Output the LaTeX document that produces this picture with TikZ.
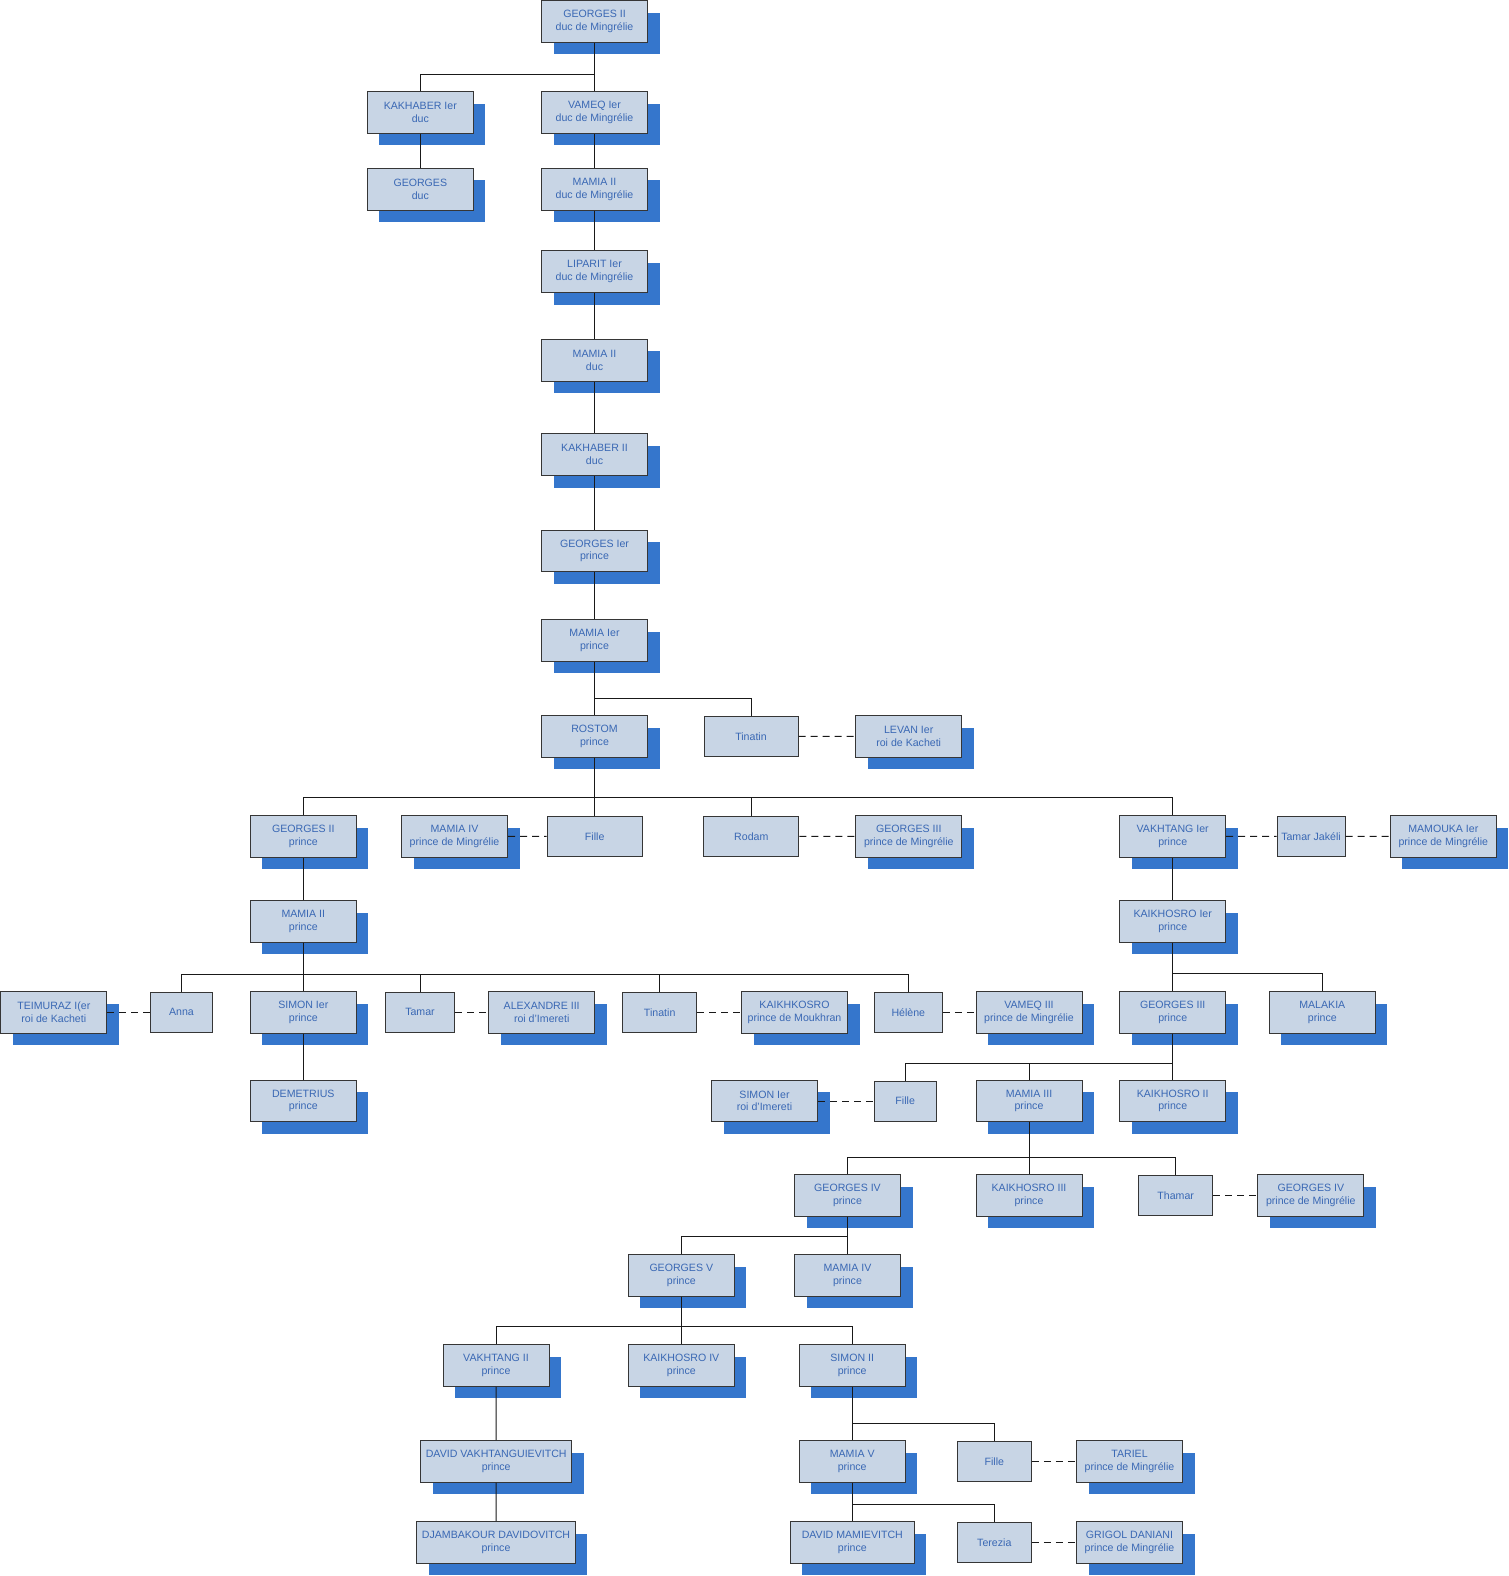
\documentclass[tikz,border=0pt]{standalone}
\usepackage{fontspec}
\setmainfont{Liberation Sans}
\usetikzlibrary{shadows}
\definecolor{famfill}{HTML}{C8D5E5}
\definecolor{famshadow}{HTML}{3576CC}
\definecolor{famtext}{HTML}{3A68B4}
\definecolor{famline}{HTML}{363636}

\tikzset{
  person/.style={draw=famline, line width=1pt, fill=famfill, text=famtext,
    font=\fontsize{10.6}{12.6}\selectfont, align=center, inner sep=0pt,
    minimum width=106pt, minimum height=41.6pt,
    drop shadow={shadow xshift=12pt, shadow yshift=-12pt, fill=famshadow, opacity=1, draw=none}},
  spouse/.style={draw=famline, line width=1pt, fill=famfill, text=famtext,
    font=\fontsize{10.6}{12.6}\selectfont, inner sep=0pt, minimum height=40pt},
  kin/.style={draw=black!90, line width=0.9pt},
  wed/.style={draw=black!90, line width=0.9pt, dash pattern=on 7pt off 5pt}
}

\begin{document}
\begin{tikzpicture}[x=1pt, y=-1pt]
  \useasboundingbox (0,0) rectangle (1509,1576);

  % Ducs (main column)
  \node[person] (g2duc) at (594.5,21.5) {GEORGES II\\duc de Mingrélie};
  \node[person] (kakh1) at (420.3,112.5) {KAKHABER Ier\\duc};
  \node[person] (vameq1) at (594.5,112.5) {VAMEQ Ier\\duc de Mingrélie};
  \node[person] (georges) at (420.3,189.2) {GEORGES\\duc};
  \node[person] (mamia2duc) at (594.5,189.2) {MAMIA II\\duc de Mingrélie};
  \node[person] (lip1) at (594.5,271.7) {LIPARIT Ier\\duc de Mingrélie};
  \node[person] (mamia2d) at (594.5,360.2) {MAMIA II\\duc};
  \node[person] (kakh2) at (594.5,454.7) {KAKHABER II\\duc};
  \node[person] (g1) at (594.5,551) {GEORGES Ier\\prince};
  \node[person] (mamia1) at (594.5,640.5) {MAMIA Ier\\prince};

  % Rostom and sister
  \node[person] (rostom) at (594.5,736.5) {ROSTOM\\prince};
  \node[spouse, minimum width=94pt] (tinatin1) at (751,736.3) {Tinatin};
  \node[person] (levan1) at (908.7,736.5) {LEVAN Ier\\roi de Kacheti};

  % Children of Rostom
  \node[person] (g2p) at (303.3,836.5) {GEORGES II\\prince};
  \node[person] (mamia4m) at (454.5,836.5) {MAMIA IV\\prince de Mingrélie};
  \node[spouse, minimum width=95pt] (fille1) at (594.7,836.3) {Fille};
  \node[spouse, minimum width=95pt] (rodam) at (751.3,836.3) {Rodam};
  \node[person] (g3m) at (908.8,836.5) {GEORGES III\\prince de Mingrélie};
  \node[person] (vakh1) at (1172.7,836.5) {VAKHTANG Ier\\prince};
  \node[spouse, minimum width=68pt] (tamarj) at (1311,836.3) {Tamar Jakéli};
  \node[person] (mamouka) at (1443.3,836.5) {MAMOUKA Ier\\prince de Mingrélie};

  \node[person] (mamia2p) at (303.3,921.3) {MAMIA II\\prince};
  \node[person] (kaikh1) at (1172.7,921.3) {KAIKHOSRO Ier\\prince};

  % Row of Simon Ier
  \node[person] (teimuraz) at (53.8,1012.3) {TEIMURAZ I(er\\roi de Kacheti};
  \node[spouse, minimum width=62pt] (anna) at (181.5,1012.3) {Anna};
  \node[person] (simon1) at (303.3,1012.3) {SIMON Ier\\prince};
  \node[spouse, minimum width=69pt] (tamar) at (420,1012.3) {Tamar};
  \node[person] (alex3) at (541.7,1012.3) {ALEXANDRE III\\roi d'Imereti};
  \node[spouse, minimum width=74pt] (tinatin2) at (659.7,1012.3) {Tinatin};
  \node[person] (kaikhk) at (794.5,1012.3) {KAIKHKOSRO\\prince de Moukhran};
  \node[spouse, minimum width=68pt] (helene) at (908.3,1012.3) {Hélène};
  \node[person] (vameq3) at (1029,1012.3) {VAMEQ III\\prince de Mingrélie};
  \node[person] (g3p) at (1172.7,1012.3) {GEORGES III\\prince};
  \node[person] (malakia) at (1322.3,1012.3) {MALAKIA\\prince};

  \node[person] (demetrius) at (303.3,1101) {DEMETRIUS\\prince};
  \node[person] (simonroi) at (764.5,1101) {SIMON Ier\\roi d'Imereti};
  \node[spouse, minimum width=62pt] (fille2) at (905.2,1101) {Fille};
  \node[person] (mamia3) at (1029,1101) {MAMIA III\\prince};
  \node[person] (kaikh2) at (1172.7,1101) {KAIKHOSRO II\\prince};

  % Children of Mamia III
  \node[person] (g4p) at (847.5,1195.3) {GEORGES IV\\prince};
  \node[person] (kaikh3) at (1029,1195.3) {KAIKHOSRO III\\prince};
  \node[spouse, minimum width=74pt] (thamar) at (1175.7,1195.3) {Thamar};
  \node[person] (g4m) at (1310.8,1195.3) {GEORGES IV\\prince de Mingrélie};

  \node[person] (g5) at (681.3,1275.3) {GEORGES V\\prince};
  \node[person] (mamia4p) at (847.5,1275.3) {MAMIA IV\\prince};

  \node[person] (vakh2) at (496,1365.5) {VAKHTANG II\\prince};
  \node[person] (kaikh4) at (681.3,1365.5) {KAIKHOSRO IV\\prince};
  \node[person] (simon2) at (852.2,1365.5) {SIMON II\\prince};

  % Last generations
  \node[person, minimum width=151pt] (davidv) at (496.2,1461.3) {DAVID VAKHTANGUIEVITCH\\prince};
  \node[person] (mamia5) at (852.2,1461.3) {MAMIA V\\prince};
  \node[spouse, minimum width=74pt] (fille3) at (994.3,1461.3) {Fille};
  \node[person] (tariel) at (1129.5,1461.3) {TARIEL\\prince de Mingrélie};

  \node[person, minimum width=158.6pt] (djamb) at (496,1542.5) {DJAMBAKOUR DAVIDOVITCH\\prince};
  \node[person, minimum width=124pt] (davidm) at (852.3,1542.5) {DAVID MAMIEVITCH\\prince};
  \node[spouse, minimum width=74pt] (terezia) at (994.3,1542.5) {Terezia};
  \node[person] (grigol) at (1129.5,1542.5) {GRIGOL DANIANI\\prince de Mingrélie};

  % Sibling bars
  \coordinate (bar0) at (0,74);
  \coordinate (bar1) at (0,698.7);
  \coordinate (bar2) at (0,797.3);
  \coordinate (bar3) at (0,974.3);
  \coordinate (bar4) at (0,973.3);
  \coordinate (bar5) at (0,1063);
  \coordinate (bar6) at (0,1157);
  \coordinate (bar7) at (0,1236.7);
  \coordinate (bar8) at (0,1326.7);
  \coordinate (bar9) at (0,1423.7);
  \coordinate (bar10) at (0,1504.7);

  % Parent to children
  \foreach \c in {kakh1,vameq1}
    \draw[kin] (g2duc.south) -- (g2duc.south |- bar0) -| (\c.north);
  \foreach \c in {rostom,tinatin1}
    \draw[kin] (mamia1.south) -- (mamia1.south |- bar1) -| (\c.north);
  \foreach \c in {g2p,fille1,rodam,vakh1}
    \draw[kin] (rostom.south) -- (rostom.south |- bar2) -| (\c.north);
  \foreach \c in {anna,simon1,tamar,tinatin2,helene}
    \draw[kin] (mamia2p.south) -- (mamia2p.south |- bar3) -| (\c.north);
  \foreach \c in {g3p,malakia}
    \draw[kin] (kaikh1.south) -- (kaikh1.south |- bar4) -| (\c.north);
  \foreach \c in {fille2,mamia3,kaikh2}
    \draw[kin] (g3p.south) -- (g3p.south |- bar5) -| (\c.north);
  \foreach \c in {g4p,kaikh3,thamar}
    \draw[kin] (mamia3.south) -- (mamia3.south |- bar6) -| (\c.north);
  \foreach \c in {g5,mamia4p}
    \draw[kin] (g4p.south) -- (g4p.south |- bar7) -| (\c.north);
  \foreach \c in {vakh2,kaikh4,simon2}
    \draw[kin] (g5.south) -- (g5.south |- bar8) -| (\c.north);
  \foreach \c in {mamia5,fille3}
    \draw[kin] (simon2.south) -- (simon2.south |- bar9) -| (\c.north);
  \foreach \c in {davidm,terezia}
    \draw[kin] (mamia5.south) -- (mamia5.south |- bar10) -| (\c.north);

  % Single lines of descent
  \draw[kin] (kakh1) -- (georges);
  \draw[kin] (vameq1) -- (mamia2duc) -- (lip1) -- (mamia2d) -- (kakh2) -- (g1) -- (mamia1);
  \draw[kin] (g2p) -- (mamia2p);
  \draw[kin] (vakh1) -- (kaikh1);
  \draw[kin] (simon1) -- (demetrius);
  \draw[kin] (vakh2) -- (davidv) -- (djamb);

  % Marriages
  \draw[wed] (tinatin1) -- (levan1);
  \draw[wed] (mamia4m) -- (fille1);
  \draw[wed] (rodam) -- (g3m);
  \draw[wed] (vakh1) -- (tamarj) -- (mamouka);
  \draw[wed] (teimuraz) -- (anna);
  \draw[wed] (tamar) -- (alex3);
  \draw[wed] (tinatin2) -- (kaikhk);
  \draw[wed] (helene) -- (vameq3);
  \draw[wed] (simonroi) -- (fille2);
  \draw[wed] (thamar) -- (g4m);
  \draw[wed] (fille3) -- (tariel);
  \draw[wed] (terezia) -- (grigol);
\end{tikzpicture}
\end{document}
